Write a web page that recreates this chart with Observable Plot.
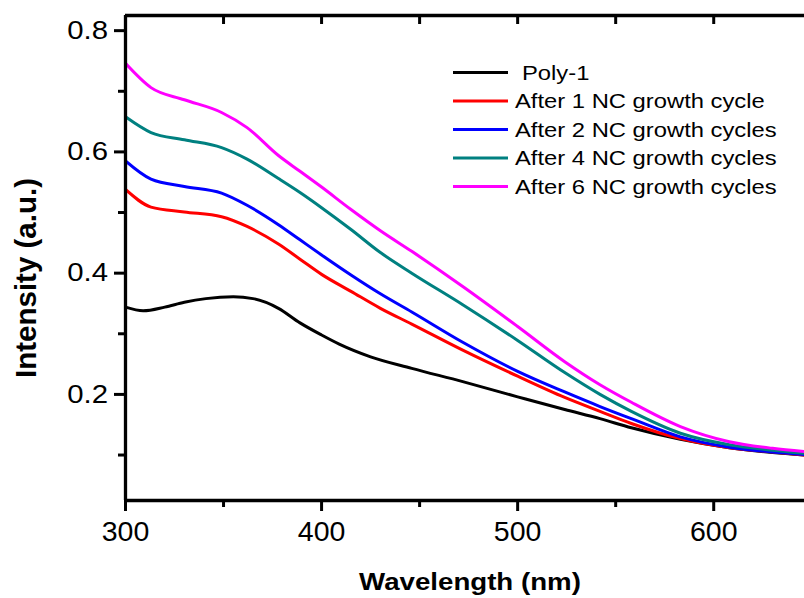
<!DOCTYPE html>
<html><head><meta charset="utf-8">
<script src="https://cdn.jsdelivr.net/npm/d3@7"></script>
<script src="https://cdn.jsdelivr.net/npm/@observablehq/plot@0.6"></script>
<style>
body{margin:0;background:#fff;overflow:hidden}
#wrap{position:relative;width:804px;height:598px}
#wrap svg{font-family:"Liberation Sans",Arial,sans-serif}
</style></head><body><div id="wrap"></div>
<script>
// ---- data ----
const seriesNames = ["Poly-1", "After 1 NC growth cycle", "After 2 NC growth cycles", "After 4 NC growth cycles", "After 6 NC growth cycles"];
const seriesColors = ["#000000", "#ff0000", "#0000ff", "#008080", "#ff00ff"];

const poly1Wavelengths = [300, 309, 320, 330, 341, 355, 365, 378, 389, 400, 409, 425, 446, 472, 500, 524, 542, 558, 583, 608, 630, 646];
const poly1 =            [0.344, 0.338, 0.344, 0.352, 0.358, 0.361, 0.358, 0.342, 0.318, 0.298, 0.283, 0.262, 0.243, 0.221, 0.196, 0.175, 0.160, 0.145, 0.126, 0.112, 0.104, 0.100];

const grownWavelengths = [300, 313, 330, 349, 362, 378, 389, 400, 415, 430, 446, 472, 500, 524, 542, 558, 583, 608, 630, 646];
const cycle1 = [0.538, 0.509, 0.501, 0.493, 0.477, 0.448, 0.423, 0.398, 0.370, 0.342, 0.316, 0.273, 0.230, 0.195, 0.172, 0.152, 0.127, 0.112, 0.105, 0.100];
const cycle2 = [0.585, 0.555, 0.543, 0.532, 0.512, 0.480, 0.455, 0.430, 0.397, 0.366, 0.336, 0.286, 0.238, 0.204, 0.180, 0.160, 0.130, 0.113, 0.105, 0.101];
const cycle4 = [0.658, 0.632, 0.620, 0.607, 0.588, 0.556, 0.533, 0.508, 0.472, 0.434, 0.400, 0.348, 0.289, 0.236, 0.200, 0.172, 0.136, 0.117, 0.108, 0.103];
const cycle6 = [0.746, 0.706, 0.686, 0.665, 0.640, 0.594, 0.568, 0.542, 0.505, 0.470, 0.436, 0.378, 0.312, 0.254, 0.216, 0.187, 0.147, 0.122, 0.111, 0.106];

const xMajorTicks = [300, 400, 500, 600];
const xMinorTicks = [350, 450, 550];
const xTopTicks = [350, 400, 450, 500, 550, 600];
const yMajorTicks = [0.2, 0.4, 0.6, 0.8];
const yMinorTicks = [0.1, 0.3, 0.5, 0.7];
const xTitle = "Wavelength (nm)";
const yTitle = "Intensity (a.u.)";
const xDomain = [300, 646.3];
const yDomain = [0.025, 0.825];

// ---- table ----
const seriesData = [[poly1Wavelengths, poly1], [grownWavelengths, cycle1], [grownWavelengths, cycle2], [grownWavelengths, cycle4], [grownWavelengths, cycle6]];
const rows = [];
seriesData.forEach(([ws, vs], i) => ws.forEach((w, j) => rows.push({series: seriesNames[i], wl: w, v: vs[j]})));

const W = 804, H = 598, mT = 15, mB = 98, mL = 125;
const frameH = H - mT - mB;
const topTickLen = 9 * (yDomain[1] - yDomain[0]) / frameH; // 9px expressed in y units

const chart = Plot.plot({
  width: W, height: H,
  marginLeft: mL, marginRight: 0, marginTop: mT, marginBottom: mB,
  x: {domain: xDomain, label: null},
  y: {domain: yDomain, label: null},
  color: {domain: seriesNames, range: seriesColors},
  style: {fontFamily: '"Liberation Sans", Arial, sans-serif', color: "#000", background: "#fff", overflow: "visible"},
  marks: [
    Plot.line(rows, {x: "wl", y: "v", z: "series", stroke: "series", strokeWidth: 3, curve: "monotone-x", clip: true}),
    Plot.axisX(xMajorTicks, {tickSize: 11, tickPadding: 9.5, strokeWidth: 3, fontSize: 28.5, label: null}),
    Plot.axisX(xMinorTicks, {tickSize: 7, strokeWidth: 3, tickFormat: () => "", label: null}),
    Plot.axisY(yMajorTicks, {tickSize: 11, tickPadding: 6.5, strokeWidth: 3, fontSize: 25.5, label: null, tickFormat: d => d.toFixed(1)}),
    Plot.axisY(yMinorTicks, {tickSize: 7, strokeWidth: 3, tickFormat: () => "", label: null}),
    Plot.ruleX(xTopTicks, {x: d => d, y1: yDomain[1], y2: yDomain[1] - topTickLen, strokeWidth: 3}),
    Plot.ruleX([xDomain[0]], {strokeWidth: 3.3}),
    Plot.ruleY([yDomain[0]], {strokeWidth: 3.3}),
    Plot.ruleY([yDomain[1]], {strokeWidth: 3.3})
  ]
});
document.getElementById("wrap").appendChild(chart);
const svg = d3.select(chart);

// ---- axis titles ----
svg.append("text").attr("class", "xtitle")
  .attr("x", 470).attr("y", 589.5)
  .attr("text-anchor", "middle").attr("font-size", 24.7).attr("font-weight", "bold").attr("fill", "#000")
  .text(xTitle);
svg.append("text").attr("class", "ytitle")
  .attr("transform", "translate(36,278) rotate(-90)")
  .attr("text-anchor", "middle").attr("font-size", 29.5).attr("font-weight", "bold").attr("fill", "#000")
  .text(yTitle);

// ---- legend (inside plot, upper right) ----
const lg = svg.append("g").attr("class", "legend");
seriesNames.forEach((name, i) => {
  const y = 72.5 + i * 28.5;
  lg.append("line").attr("x1", 453).attr("x2", 508).attr("y1", y).attr("y2", y)
    .attr("stroke", seriesColors[i]).attr("stroke-width", 3.2);
  lg.append("text").attr("x", i === 0 ? 522 : 515).attr("y", y).attr("dy", "0.35em")
    .attr("text-anchor", "start")
    .attr("font-size", 20.5).attr("fill", "#000").attr("class", "lgtext").text(name);
});

// ---- horizontal stretch of text to match the reference's aspect ----
function stretch(nodes, f) {
  nodes.forEach(n => {
    const L = n.getComputedTextLength();
    if (L > 0) { n.setAttribute("textLength", L * f); n.setAttribute("lengthAdjust", "spacingAndGlyphs"); }
  });
}
const allText = Array.from(chart.querySelectorAll("text"));
stretch(allText.filter(t => /^0\.\d$/.test(t.textContent)), 1.15);
stretch(Array.from(chart.querySelectorAll("text.xtitle")), 1.12);
stretch(Array.from(chart.querySelectorAll("text.lgtext")), 1.16);
</script></body></html>
